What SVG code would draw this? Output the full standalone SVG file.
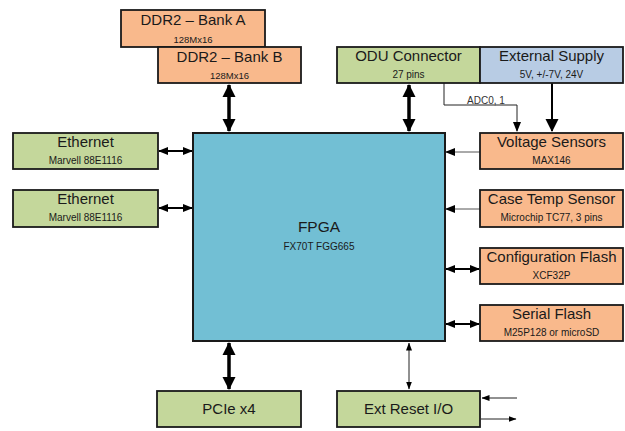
<svg xmlns="http://www.w3.org/2000/svg" width="625" height="431" viewBox="0 0 625 431">
<style>
text{font-family:"Liberation Sans",Arial,sans-serif;fill:#1a1a1a;text-anchor:middle}
.t{font-size:15px}
.s{font-size:10px}
.b{stroke:#1a1a1a;stroke-width:1.8}
.or{fill:#f9b98c}
.gr{fill:#c4d79b}
.bl{fill:#b8cce4}
.fp{fill:#72bfd4}
.thick{stroke:#000;stroke-width:3.5;fill:none}
.med{stroke:#000;stroke-width:2;fill:none}
.thin{stroke:#222;stroke-width:1;fill:none}
.gthin{stroke:#555;stroke-width:1;fill:none}
</style>
<defs>
<marker id="hk" markerUnits="userSpaceOnUse" markerWidth="14" markerHeight="14" refX="12" refY="7" orient="auto-start-reverse"><path d="M0,0.5 L13,7 L0,13.5 Z" fill="#000"/></marker>
<marker id="hm" markerUnits="userSpaceOnUse" markerWidth="10" markerHeight="10" refX="9" refY="5" orient="auto-start-reverse"><path d="M0,1 L10,5 L0,9 Z" fill="#000"/></marker>
<marker id="ht" markerUnits="userSpaceOnUse" markerWidth="8" markerHeight="8" refX="7.5" refY="4" orient="auto-start-reverse"><path d="M0,1 L8,4 L0,7 Z" fill="#000"/></marker>
</defs>
<rect width="625" height="431" fill="#fff"/>

<g id="connectors">
<line class="thick" x1="229" y1="85" x2="229" y2="131" marker-start="url(#hk)" marker-end="url(#hk)"/>
<line class="thick" x1="409" y1="85" x2="409" y2="131" marker-start="url(#hk)" marker-end="url(#hk)"/>
<polyline class="thin" points="444,83 444,105 517,105 517,131" marker-end="url(#hm)"/>
<line class="med" x1="552" y1="83" x2="552" y2="131" marker-end="url(#hk)"/>
<line class="gthin" x1="480" y1="152" x2="446" y2="152" marker-end="url(#hm)"/>
<line class="gthin" x1="480" y1="209" x2="446" y2="209" marker-end="url(#hm)"/>
<line class="med" x1="159" y1="151" x2="192" y2="151" marker-start="url(#hm)" marker-end="url(#hm)"/>
<line class="med" x1="159" y1="208" x2="192" y2="208" marker-start="url(#hm)" marker-end="url(#hm)"/>
<line class="med" x1="446" y1="269" x2="479" y2="269" marker-start="url(#hm)" marker-end="url(#hm)"/>
<line class="med" x1="446" y1="324" x2="479" y2="324" marker-start="url(#hm)" marker-end="url(#hm)"/>
<line class="thick" x1="229" y1="343" x2="229" y2="389" marker-start="url(#hk)" marker-end="url(#hk)"/>
<line class="thin" x1="409" y1="343" x2="409" y2="389" marker-start="url(#ht)" marker-end="url(#ht)"/>
<line class="thin" x1="517" y1="398" x2="482" y2="398" marker-end="url(#ht)"/>
<line class="thin" x1="481" y1="419" x2="516" y2="419" marker-end="url(#ht)"/>
<text x="486" y="104" style="font-size:10px;fill:#333">ADC0, 1</text>
</g>

<g id="ddr2-a">
<rect class="b or" x="121" y="10" width="144" height="37"/>
<text class="t" x="193" y="25">DDR2 – Bank A</text>
<text class="s" x="193" y="43" style="font-size:9.5px">128Mx16</text>
</g>
<g id="ddr2-b">
<rect class="b or" x="158" y="47" width="143" height="36"/>
<text class="t" x="229.5" y="62">DDR2 – Bank B</text>
<text class="s" x="229.5" y="79" style="font-size:9.5px">128Mx16</text>
</g>
<g id="odu">
<rect class="b gr" x="337" y="47" width="143" height="36"/>
<text class="t" x="408.5" y="61">ODU Connector</text>
<text class="s" x="408.5" y="78">27 pins</text>
</g>
<g id="ext-supply">
<rect class="b bl" x="480" y="47" width="143" height="36"/>
<text class="t" x="551.5" y="61">External Supply</text>
<text class="s" x="551.5" y="78">5V, +/-7V, 24V</text>
</g>
<g id="voltage-sensors">
<rect class="b or" x="480" y="133" width="143" height="36"/>
<text class="t" x="551.5" y="147">Voltage Sensors</text>
<text class="s" x="551.5" y="164">MAX146</text>
</g>
<g id="case-temp">
<rect class="b or" x="480" y="190" width="143" height="37"/>
<text class="t" x="551.5" y="204">Case Temp Sensor</text>
<text class="s" x="551.5" y="221">Microchip TC77, 3 pins</text>
</g>
<g id="config-flash">
<rect class="b or" x="480" y="248" width="143" height="36"/>
<text class="t" x="551.5" y="262">Configuration Flash</text>
<text class="s" x="551.5" y="279">XCF32P</text>
</g>
<g id="serial-flash">
<rect class="b or" x="480" y="305" width="143" height="36"/>
<text class="t" x="551.5" y="319">Serial Flash</text>
<text class="s" x="551.5" y="336">M25P128 or microSD</text>
</g>
<g id="eth1">
<rect class="b gr" x="13" y="133" width="145" height="36"/>
<text class="t" x="85.5" y="147">Ethernet</text>
<text class="s" x="85.5" y="164">Marvell 88E1116</text>
</g>
<g id="eth2">
<rect class="b gr" x="13" y="190" width="145" height="37"/>
<text class="t" x="85.5" y="204">Ethernet</text>
<text class="s" x="85.5" y="221">Marvell 88E1116</text>
</g>
<g id="fpga">
<rect class="b fp" x="193" y="133" width="252" height="208" style="stroke-width:2"/>
<text x="319" y="232" style="font-size:15.5px">FPGA</text>
<text class="s" x="319" y="250">FX70T FGG665</text>
</g>
<g id="pcie">
<rect class="b gr" x="157" y="391" width="144" height="36"/>
<text class="t" x="229" y="414">PCIe x4</text>
</g>
<g id="ext-reset">
<rect class="b gr" x="337" y="391" width="143" height="36"/>
<text class="t" x="408.5" y="414">Ext Reset I/O</text>
</g>
</svg>
